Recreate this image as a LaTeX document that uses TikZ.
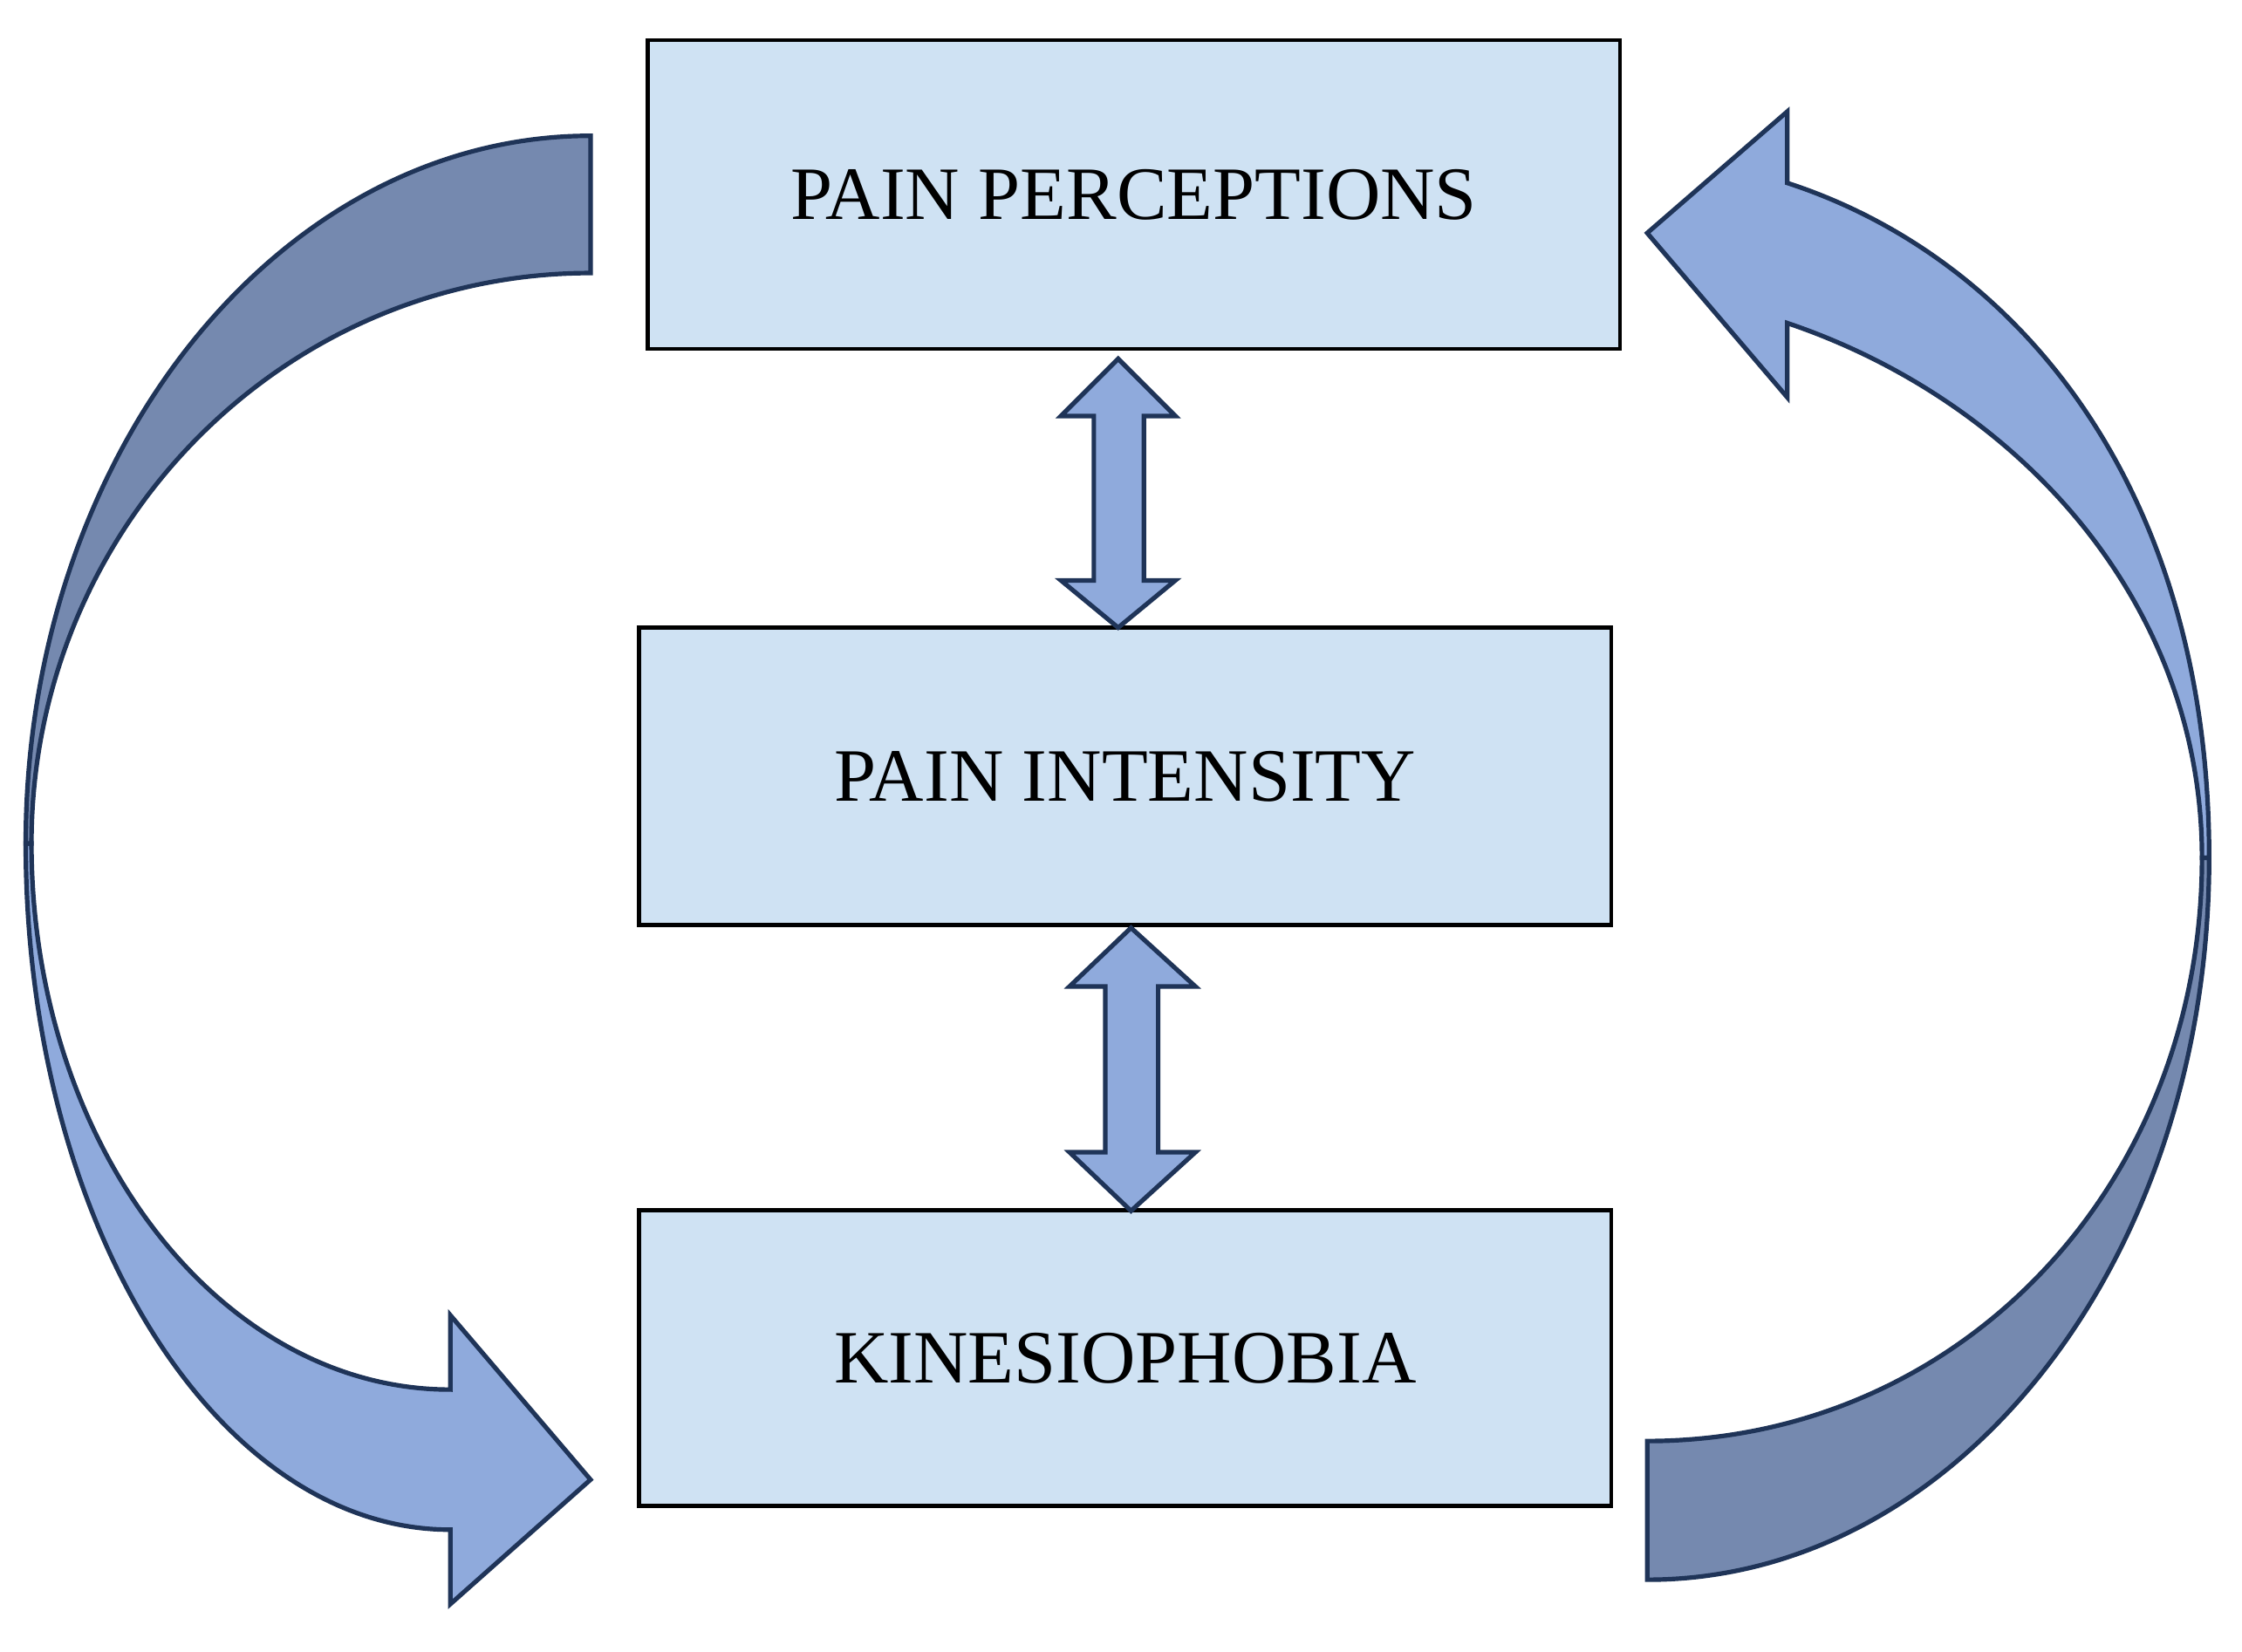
\documentclass[tikz,border=0pt]{standalone}
\usepackage{fontspec}
\setmainfont{Liberation Serif}
\begin{document}
\begin{tikzpicture}[x=0.02cm,y=-0.02cm,
  box/.style={draw=black,line width=1.6pt,fill=boxfill,minimum width=13.6cm,minimum height=4.2cm,font=\fontsize{30}{36}\selectfont},
  arr/.style={draw=edge,line width=1.8pt,line join=miter}]
\definecolor{boxfill}{HTML}{CFE2F3}
\definecolor{light}{HTML}{8FAADC}
\definecolor{dark}{HTML}{7589AF}
\definecolor{edge}{HTML}{1F3458}
\useasboundingbox (0,0) rectangle (1568,1155);
\node[box,minimum height=4.32cm] (pp) at (793,136) {PAIN PERCEPTIONS};
\node[box,minimum height=4.16cm] (pi) at (787,543) {PAIN INTENSITY};
\node[box,minimum height=4.14cm] (ki) at (787,950) {KINESIOPHOBIA};
% double arrows
\draw[arr,fill=light] (782,251) -- (822,291) -- (800,291) -- (800,406) -- (822,406) -- (782,439) -- (742,406) -- (765,406) -- (765,291) -- (742,291) -- cycle;
\draw[arr,fill=light] (791,649) -- (836,690) -- (810,690) -- (810,806) -- (836,806) -- (791,847) -- (748,806) -- (773,806) -- (773,690) -- (748,690) -- cycle;
% left curved arrow
\draw[arr,fill=light] (18,590) .. controls (18,855) and (151,1070) .. (315,1070) -- (315,1122) -- (413,1035) -- (315,920) -- (315,972) .. controls (153,972) and (22,800) .. (22,590) -- cycle;
\draw[arr,fill=dark] (413,95) .. controls (195,95) and (18,317) .. (18,590) -- (22,590) .. controls (22,370) and (197,191) .. (413,191) -- cycle;
% right curved arrow
\draw[arr,fill=light] (1545,600) .. controls (1545,340) and (1410,180) .. (1250,128) -- (1250,78) -- (1152,163) -- (1250,278) -- (1250,226) .. controls (1410,280) and (1540,420) .. (1540,600) -- cycle;
\draw[arr,fill=dark] (1545,600) .. controls (1545,880) and (1370,1105) .. (1152,1105) -- (1152,1008) .. controls (1370,1008) and (1540,830) .. (1540,600) -- cycle;
\end{tikzpicture}
\end{document}
